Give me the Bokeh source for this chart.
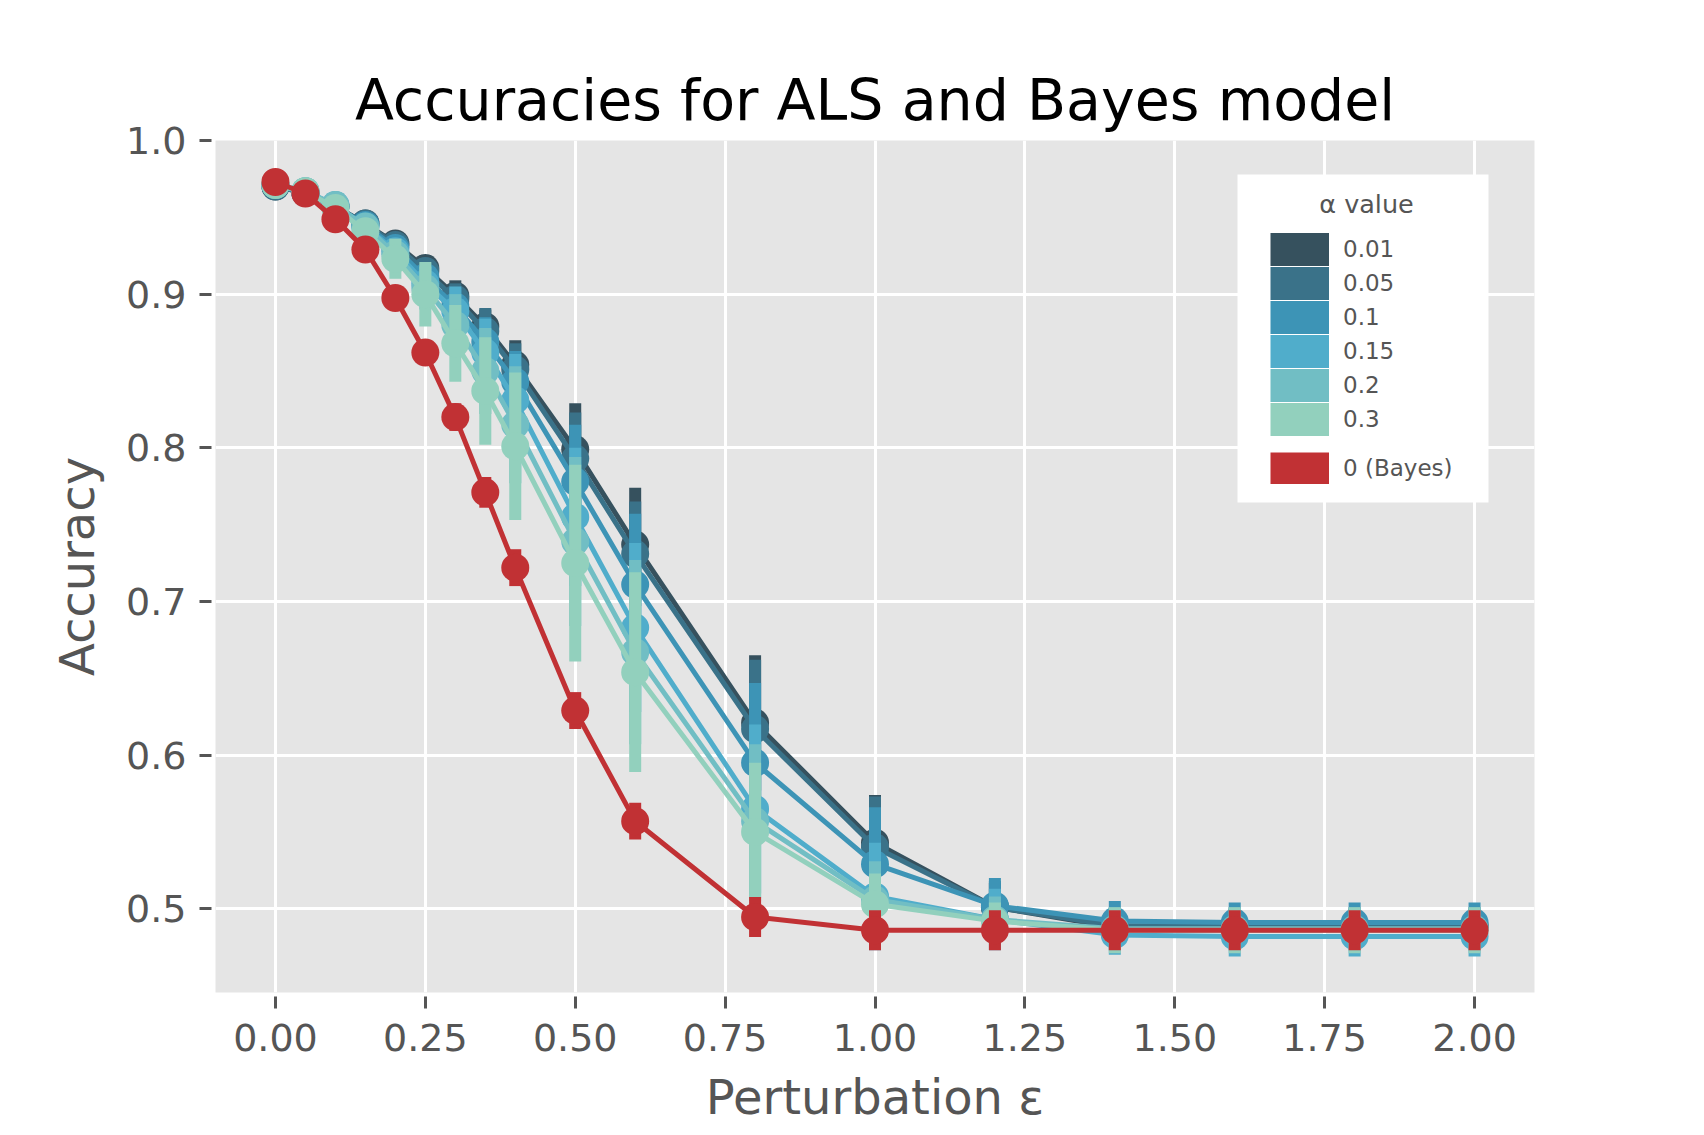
from bokeh.plotting import figure
from bokeh.models import (Range1d, FixedTicker, Legend, LegendItem,
                          BoxAnnotation, Label)
from bokeh.embed import file_html
from bokeh.resources import INLINE

# ---------------- data ----------------
EPS = [0.0, 0.05, 0.1, 0.15, 0.2, 0.25, 0.3, 0.35, 0.4, 0.5, 0.6, 0.8,
       1.0, 1.2, 1.4, 1.6, 1.8, 2.0]

ALPHA_LABELS = ["0.01", "0.05", "0.1", "0.15", "0.2", "0.3"]

ACC_A001 = [0.970, 0.966, 0.957, 0.946, 0.933, 0.917, 0.899, 0.879, 0.854,
            0.799, 0.737, 0.621, 0.543, 0.501, 0.488, 0.488, 0.488, 0.488]
ACC_A005 = [0.970, 0.966, 0.957, 0.946, 0.932, 0.915, 0.897, 0.876, 0.851,
            0.793, 0.731, 0.617, 0.540, 0.501, 0.489, 0.489, 0.489, 0.489]
ACC_A010 = [0.971, 0.966, 0.957, 0.945, 0.930, 0.911, 0.892, 0.869, 0.843,
            0.778, 0.711, 0.595, 0.529, 0.502, 0.492, 0.491, 0.491, 0.491]
ACC_A015 = [0.971, 0.967, 0.958, 0.944, 0.928, 0.907, 0.889, 0.862, 0.831,
            0.755, 0.683, 0.565, 0.508, 0.493, 0.483, 0.482, 0.482, 0.482]
ACC_A020 = [0.971, 0.967, 0.958, 0.944, 0.926, 0.904, 0.880, 0.850, 0.815,
            0.739, 0.667, 0.557, 0.506, 0.493, 0.487, 0.487, 0.487, 0.487]
ACC_A030 = [0.971, 0.967, 0.956, 0.941, 0.923, 0.900, 0.868, 0.837, 0.801,
            0.725, 0.654, 0.550, 0.503, 0.492, 0.486, 0.486, 0.486, 0.486]

ERR_A001 = [0.003, 0.003, 0.004, 0.005, 0.006, 0.008, 0.010, 0.011, 0.016,
            0.030, 0.037, 0.044, 0.031, 0.016, 0.012, 0.012, 0.012, 0.012]
ERR_A005 = [0.003, 0.003, 0.004, 0.005, 0.006, 0.008, 0.010, 0.015, 0.017,
            0.030, 0.034, 0.045, 0.033, 0.017, 0.012, 0.012, 0.012, 0.012]
ERR_A010 = [0.003, 0.003, 0.004, 0.005, 0.007, 0.009, 0.012, 0.016, 0.020,
            0.037, 0.046, 0.052, 0.037, 0.018, 0.013, 0.013, 0.013, 0.013]
ERR_A015 = [0.003, 0.003, 0.004, 0.006, 0.008, 0.011, 0.016, 0.022, 0.030,
            0.045, 0.055, 0.055, 0.035, 0.020, 0.013, 0.013, 0.013, 0.013]
ERR_A020 = [0.003, 0.003, 0.005, 0.006, 0.010, 0.014, 0.020, 0.028, 0.038,
            0.055, 0.060, 0.050, 0.025, 0.015, 0.014, 0.014, 0.014, 0.014]
ERR_A030 = [0.003, 0.003, 0.005, 0.007, 0.013, 0.021, 0.025, 0.035, 0.048,
            0.064, 0.065, 0.045, 0.020, 0.012, 0.015, 0.015, 0.015, 0.015]

BAYES_LABEL = "0 (Bayes)"
ACC_BAYES = [0.973, 0.9655, 0.9487, 0.929, 0.8975, 0.862, 0.820, 0.771,
             0.722, 0.629, 0.557, 0.4946, 0.486, 0.486, 0.486, 0.486, 0.486,
             0.486]
ERR_BAYES = [0.003, 0.003, 0.004, 0.005, 0.006, 0.008, 0.009, 0.010, 0.012,
             0.012, 0.012, 0.013, 0.013, 0.013, 0.013, 0.013, 0.013, 0.013]

X_TICKS = [0.0, 0.25, 0.5, 0.75, 1.0, 1.25, 1.5, 1.75, 2.0]
X_TICK_LABELS = ["0.00", "0.25", "0.50", "0.75", "1.00", "1.25", "1.50",
                 "1.75", "2.00"]
Y_TICKS = [0.5, 0.6, 0.7, 0.8, 0.9, 1.0]
Y_TICK_LABELS = ["0.5", "0.6", "0.7", "0.8", "0.9", "1.0"]

TITLE = "Accuracies for ALS and Bayes model"
X_LABEL = "Perturbation ε"
Y_LABEL = "Accuracy"
LEGEND_TITLE = "α value"

ALPHA_COLORS = ["#36515E", "#3A7289", "#3D94B6", "#50ADCB", "#71BEC4",
                "#92D0BD"]
BAYES_COLOR = "#C13134"

ACCS = [ACC_A001, ACC_A005, ACC_A010, ACC_A015, ACC_A020, ACC_A030]
ERRS = [ERR_A001, ERR_A005, ERR_A010, ERR_A015, ERR_A020, ERR_A030]

FONT = "DejaVu Sans"
GREY = "#555555"
NAN = float("nan")

# ---------------- figure ----------------
p = figure(width=1688, height=1127, output_backend="svg",
           toolbar_location=None,
           x_range=Range1d(-0.1, 2.1), y_range=Range1d(0.4455, 1.0),
           min_border_left=215, min_border_right=154,
           min_border_top=140, min_border_bottom=127)

p.background_fill_color = "#E5E5E5"
p.border_fill_color = "white"
p.outline_line_color = None

p.title.text = TITLE
p.title.align = "center"
p.title.text_font = FONT
p.title.text_font_size = "57px"
p.title.text_font_style = "normal"
p.title.text_color = "black"
p.title.standoff = 15

for ax in (p.xaxis[0], p.yaxis[0]):
    ax.axis_line_color = None
    ax.major_tick_line_color = GREY
    ax.major_tick_line_width = 3
    ax.major_tick_in = -4
    ax.major_tick_out = 16
    ax.minor_tick_line_color = None
    ax.major_label_text_font = FONT
    ax.major_label_text_font_size = "38px"
    ax.major_label_text_color = GREY
    ax.axis_label_text_font = FONT
    ax.axis_label_text_font_size = "48px"
    ax.axis_label_text_font_style = "normal"
    ax.axis_label_text_color = GREY

p.xaxis.ticker = FixedTicker(ticks=X_TICKS)
p.yaxis.ticker = FixedTicker(ticks=Y_TICKS)
p.xaxis.major_label_overrides = dict(zip(X_TICKS, X_TICK_LABELS))
p.yaxis.major_label_overrides = dict(zip(Y_TICKS, Y_TICK_LABELS))
p.xaxis.axis_label = X_LABEL
p.yaxis.axis_label = Y_LABEL
p.xaxis.major_label_standoff = 15
p.yaxis.major_label_standoff = 13
p.xaxis.axis_label_standoff = 15
p.yaxis.axis_label_standoff = 18

for g in (p.xgrid[0], p.ygrid[0]):
    g.grid_line_color = "white"
    g.grid_line_width = 3
p.xgrid.ticker = FixedTicker(ticks=X_TICKS)
p.ygrid.ticker = FixedTicker(ticks=Y_TICKS)


def draw_series(acc, err, color):
    lo = [a - e for a, e in zip(acc, err)]
    hi = [a + e for a, e in zip(acc, err)]
    p.line(EPS, acc, line_color=color, line_width=5)
    p.segment(x0=EPS, y0=lo, x1=EPS, y1=hi, line_color=color,
              line_width=12, line_cap="butt")
    p.scatter(EPS, acc, marker="circle", size=28, fill_color=color,
              line_color=color, line_width=0)


for acc, err, col in zip(ACCS, ERRS, ALPHA_COLORS):
    draw_series(acc, err, col)
draw_series(ACC_BAYES, ERR_BAYES, BAYES_COLOR)

# ---------------- legend ----------------
box = BoxAnnotation(left=1022, right=1273, top=818, bottom=490,
                    left_units="screen", right_units="screen",
                    top_units="screen", bottom_units="screen",
                    fill_color="white", fill_alpha=1.0, line_color=None)
p.add_layout(box)

leg_title = Label(x=1151, y=789, x_units="screen", y_units="screen",
                  text=LEGEND_TITLE, text_align="center",
                  text_baseline="alphabetic", text_font=FONT,
                  text_font_size="25.5px", text_color=GREY)
p.add_layout(leg_title)

items_a = []
for lab, col in zip(ALPHA_LABELS, ALPHA_COLORS):
    r = p.line([NAN], [NAN], line_color=col, line_width=33, line_cap="butt")
    items_a.append(LegendItem(label=lab, renderers=[r]))
r_b = p.line([NAN], [NAN], line_color=BAYES_COLOR, line_width=32,
             line_cap="butt")
items_b = [LegendItem(label=BAYES_LABEL, renderers=[r_b])]


def make_legend(items, loc, h):
    return Legend(items=items, location=loc, orientation="vertical",
                  spacing=0, padding=0, margin=0,
                  glyph_width=59, glyph_height=h, label_height=h,
                  label_standoff=14, label_text_font=FONT,
                  label_text_font_size="23px", label_text_color=GREY,
                  background_fill_alpha=0, border_line_color=None)


p.add_layout(make_legend(items_a, (1055, 556), 34))
p.add_layout(make_legend(items_b, (1055, 508), 32))

open("out.html", "w").write(file_html(p, INLINE))
